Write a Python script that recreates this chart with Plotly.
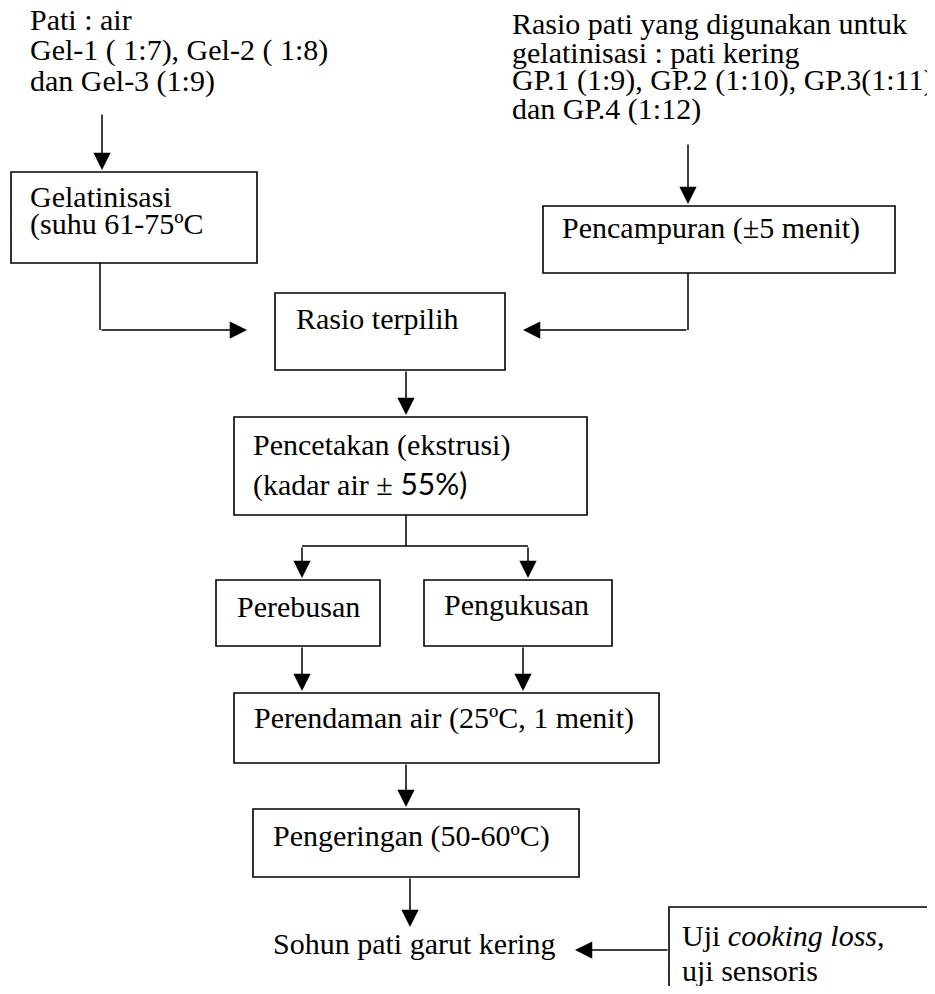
import plotly.graph_objects as go

# page has an 8px body margin; map data coordinates straight to page pixels
PAGE_W, PAGE_H = 935, 994
OFF = 8
W, H = PAGE_W - 2 * OFF, PAGE_H - 2 * OFF
FONT = "Liberation Serif, Times New Roman, serif"
FS = 30

# ---- flowchart content ----
free_text = [
    "Pati : air",
    "Gel-1 ( 1:7), Gel-2 ( 1:8)",
    "dan Gel-3 (1:9)",
    "Rasio pati yang digunakan untuk",
    "gelatinisasi : pati kering",
    "GP.1 (1:9), GP.2 (1:10), GP.3(1:11),",
    "dan GP.4 (1:12)",
    "Sohun pati garut kering",
]
free_pos = [(28, 19), (28, 50), (28, 81),
            (510, 23), (510, 52), (510, 80), (510, 109),
            (271, 943)]

box_labels = [
    ["Gelatinisasi", "(suhu 61-75ºC"],
    ["Pencampuran (±5 menit)"],
    ["Rasio terpilih"],
    ["Pencetakan (ekstrusi)",
     "(kadar air ±<span style=\"font-family:Lato, sans-serif\"> 55%)</span>"],
    ["Perebusan"],
    ["Pengukusan"],
    ["Perendaman air (25ºC, 1 menit)"],
    ["Pengeringan (50-60ºC)"],
    ["Uji <i>cooking loss</i>,", "uji sensoris"],
]
# box geometry: x0, x1, y0, y1 (pixels from top-left)
box_geom = [
    (11, 257, 172, 263),
    (543, 895, 206, 273),
    (275, 505, 293, 370),
    (234, 587, 417, 515),
    (216, 380, 580, 646),
    (424, 612, 580, 646),
    (234, 659, 693, 763),
    (253, 579, 809, 877),
    (669, 960, 907, 1010),
]
# text anchor for each line: (x_left, y_center)
box_text_pos = [
    [(28, 196), (28, 224)],
    [(560, 228)],
    [(294, 318)],
    [(251, 445), (251, 483)],
    [(235, 606)],
    [(442, 604)],
    [(252, 718)],
    [(271, 836)],
    [(680, 935), (680, 970)],
]

# plain connector segments (x0, y0, x1, y1)
segments = [
    (100, 263, 100, 330),
    (688, 273, 688, 330),
    (406, 515, 406, 546),
    (302, 546, 528, 546),
]
# arrows: tail (x, y) -> tip (x, y)
arrows = [
    ((102, 113), (102, 170)),
    ((688, 143), (688, 204)),
    ((100, 330), (247, 330)),
    ((688, 330), (523, 330)),
    ((406, 370), (406, 415)),
    ((302, 546), (302, 578)),
    ((528, 546), (528, 578)),
    ((302, 646), (302, 691)),
    ((523, 646), (523, 691)),
    ((406, 763), (406, 807)),
    ((410, 877), (410, 927)),
    ((669, 950), (575, 950)),
]

fig = go.Figure()
fig.add_trace(go.Scatter(x=[OFF, OFF + W], y=[OFF, OFF + H], mode="markers",
                         marker=dict(opacity=0), hoverinfo="skip", showlegend=False))

shapes = []
for (x0, x1, y0, y1) in box_geom:
    shapes.append(dict(type="rect", x0=x0, x1=x1, y0=y0, y1=y1, xref="x", yref="y",
                       line=dict(color="black", width=1.6), fillcolor="rgba(0,0,0,0)"))
for (x0, y0, x1, y1) in segments:
    shapes.append(dict(type="line", x0=x0, y0=y0, x1=x1, y1=y1, xref="x", yref="y",
                       line=dict(color="black", width=1.5)))

annotations = []
def add_text(t, x, y):
    annotations.append(dict(text=t, x=x, y=y, xref="x", yref="y", showarrow=False,
                            xanchor="left", yanchor="middle", align="left",
                            font=dict(family=FONT, size=FS, color="black")))

for t, (x, y) in zip(free_text, free_pos):
    add_text(t, x, y)
for lines, poss in zip(box_labels, box_text_pos):
    for t, (x, y) in zip(lines, poss):
        add_text(t, x, y)

for (tx, ty), (hx, hy) in arrows:
    annotations.append(dict(text="", x=hx, y=hy, ax=tx, ay=ty, xref="x", yref="y",
                            axref="x", ayref="y", showarrow=True, arrowhead=2,
                            arrowsize=2.3, arrowwidth=1.5, arrowcolor="black",
                            standoff=0, startstandoff=0))

fig.update_layout(
    width=W, height=H,
    margin=dict(l=0, r=0, t=0, b=0),
    paper_bgcolor="white", plot_bgcolor="white",
    xaxis=dict(range=[OFF, OFF + W], visible=False, fixedrange=True),
    yaxis=dict(range=[OFF + H, OFF], visible=False, fixedrange=True),
    shapes=shapes, annotations=annotations, showlegend=False,
)
fig.write_html("out.html")
